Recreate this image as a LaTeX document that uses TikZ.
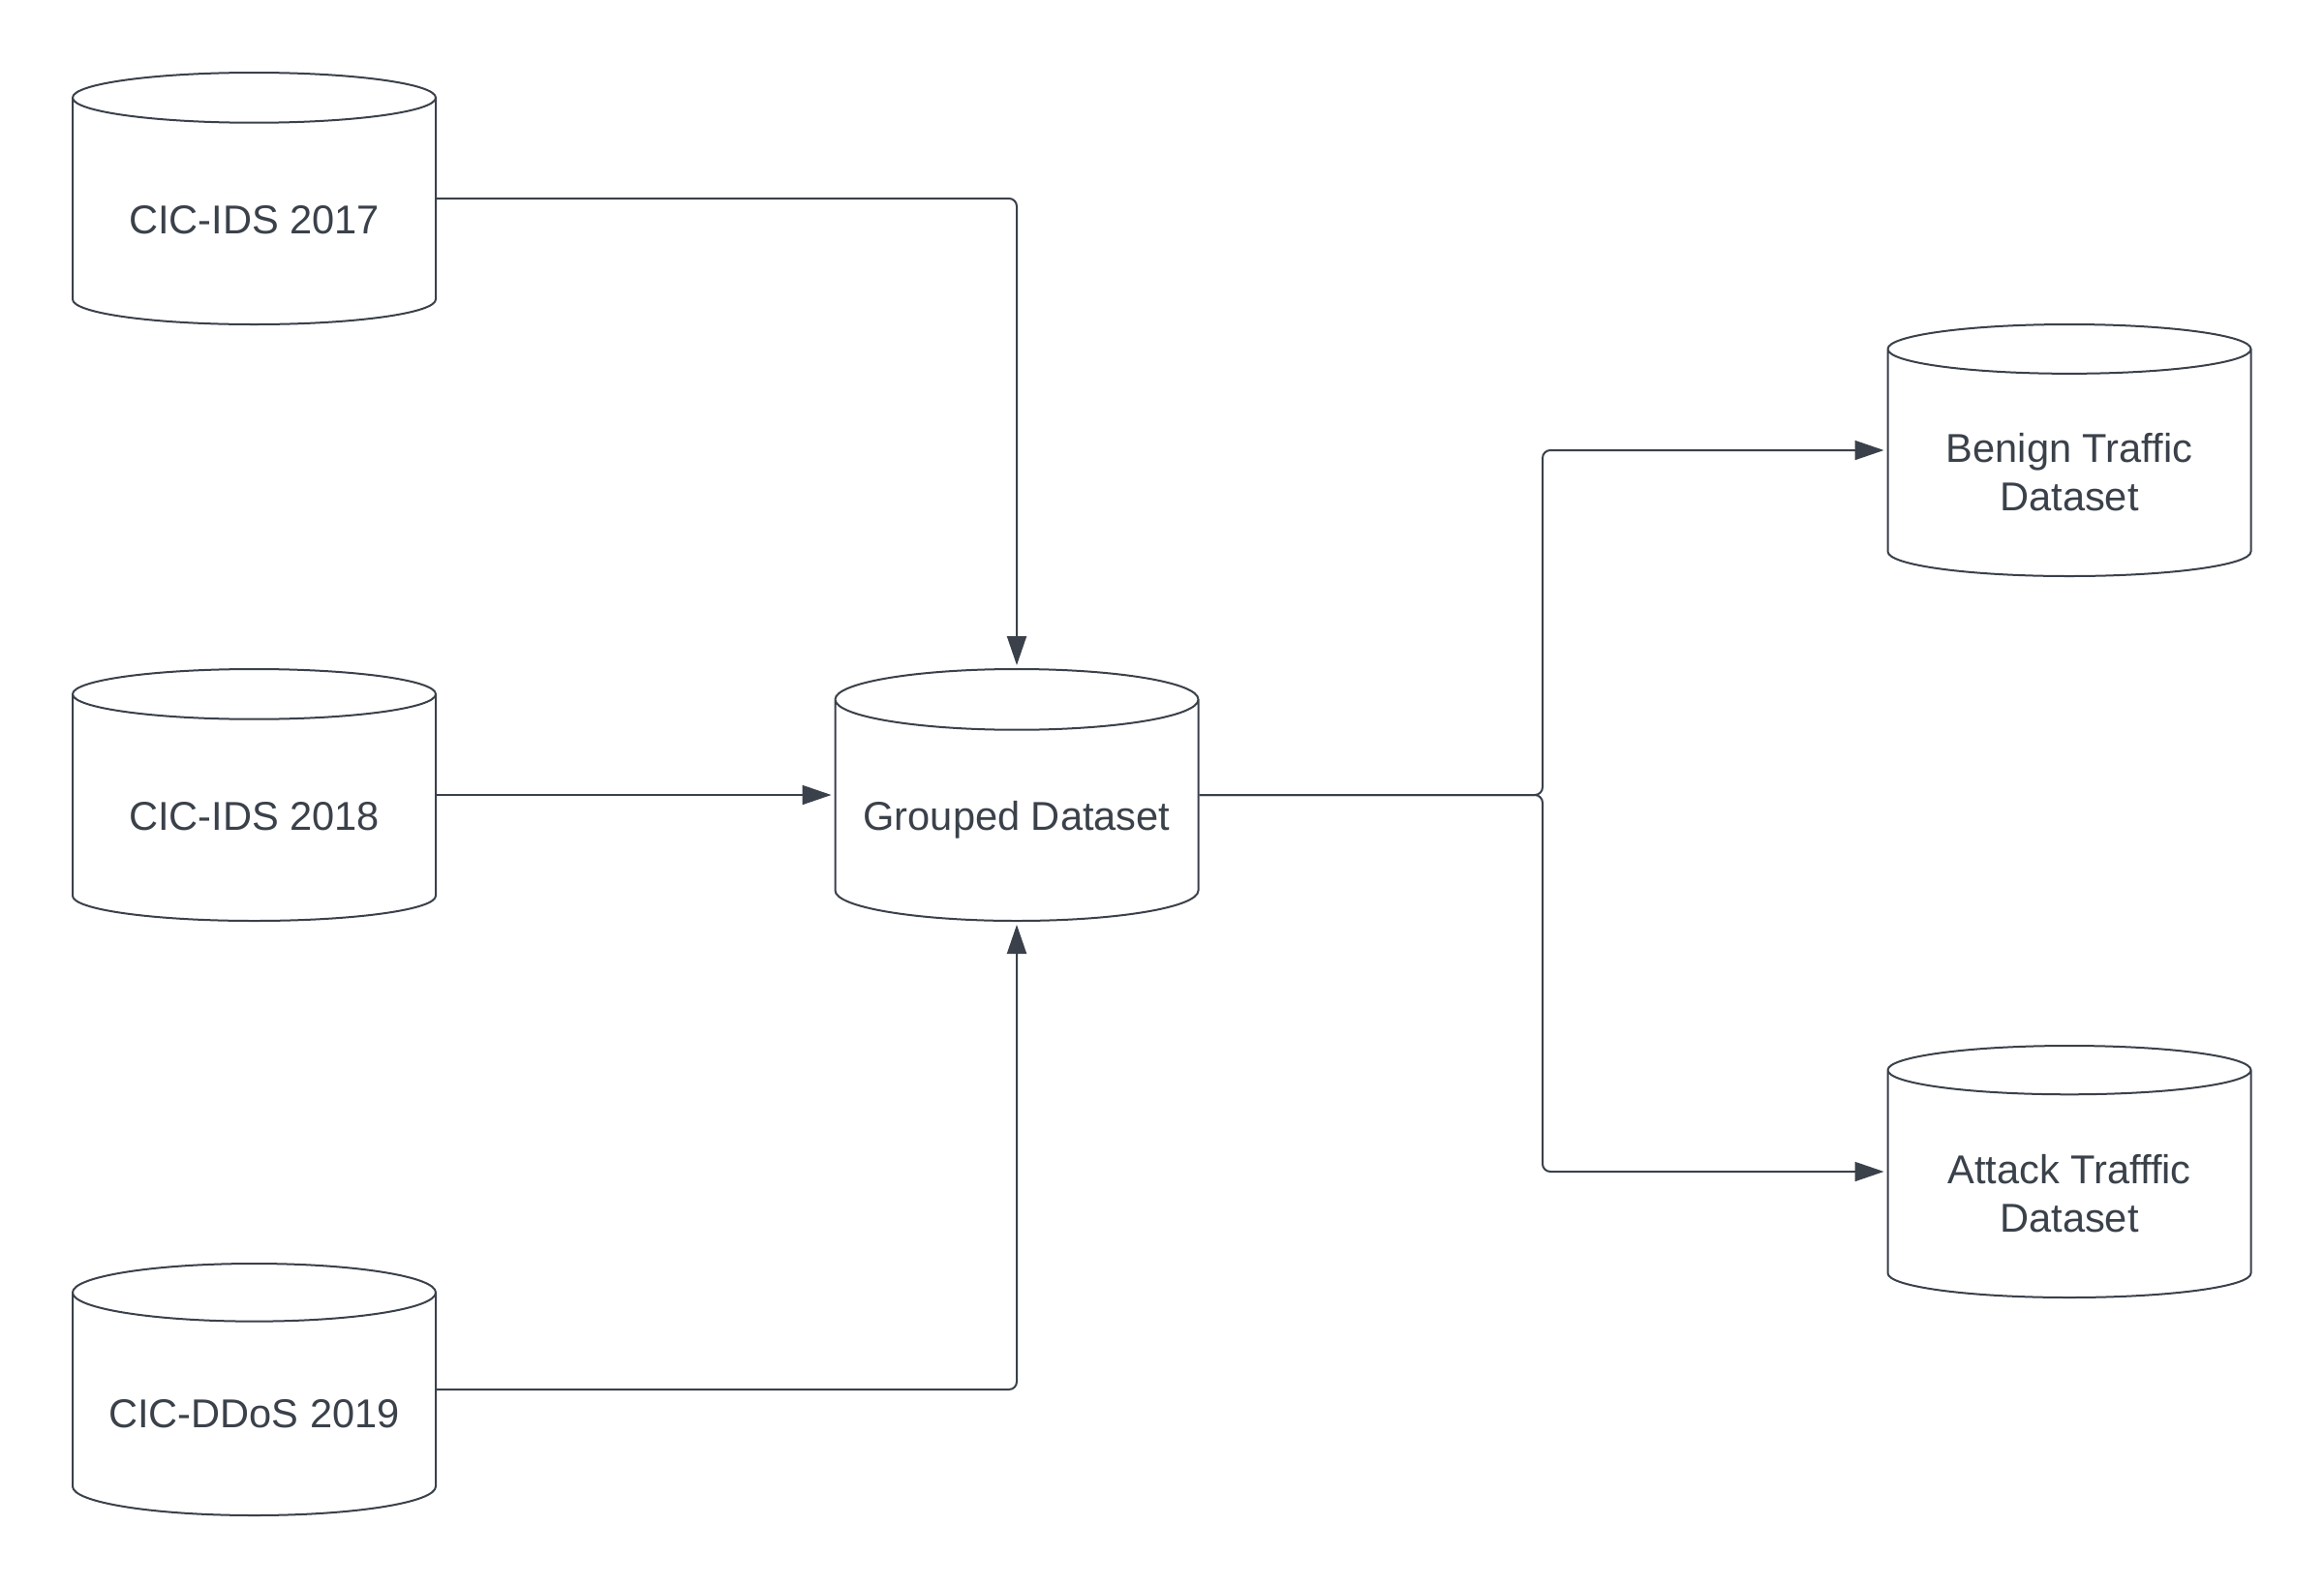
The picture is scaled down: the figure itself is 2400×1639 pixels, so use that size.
\documentclass[tikz,border=0pt]{standalone}
\usepackage{fontspec}
\setmainfont{Liberation Sans}
\usetikzlibrary{shapes.geometric}
\usetikzlibrary{arrows.meta}
\definecolor{inkgray}{HTML}{3A414A}

\begin{document}
\begin{tikzpicture}[x=0.5pt, y=-0.5pt,
                    dataset/.style={shape=cylinder, shape border rotate=90, aspect=0.19,
                                    draw=inkgray, line width=1pt, fill=white,
                                    minimum width=187.5pt, minimum height=130pt,
                                    text=inkgray, font=\fontsize{20.8}{25}\selectfont,
                                    execute at begin node={\rule{0pt}{20pt}},
                                    align=center, anchor=shape center},
                    flow/.style={draw=inkgray, line width=1pt, rounded corners=4pt,
                                 -{Triangle[length=15pt, width=10pt]}, shorten >=1.5pt}]
    \useasboundingbox [fill=white] (0,0) rectangle (2400,1639);
    \node [dataset] (ids17)   at (262.5,205)  {CIC-IDS 2017};
    \node [dataset] (ids18)   at (262.5,821)  {CIC-IDS 2018};
    \node [dataset] (ddos19)  at (262.5,1435) {CIC-DDoS 2019};
    \node [dataset] (grouped) at (1050,821)   {Grouped Dataset};
    \node [dataset, text height=46pt, text depth=0pt] (benign)  at (2137,465)   {Benign Traffic\\Dataset};
    \node [dataset, text height=46pt, text depth=0pt] (attack)  at (2137,1210)  {Attack Trafffic\\Dataset};
    \coordinate (split) at (1593,821);
    \draw [flow] (ids17.shape center -| ids17.east) -| (grouped.top);
    \draw [flow] (ids18.shape center -| ids18.east) -- (grouped.shape center -| grouped.west);
    \draw [flow] (ddos19.shape center -| ddos19.east) -| (grouped.bottom);
    \draw [flow] (grouped.shape center -| grouped.east) -- (split) |- (benign.shape center -| benign.west);
    \draw [flow] (grouped.shape center -| grouped.east) -- (split) |- (attack.shape center -| attack.west);
\end{tikzpicture}
\end{document}
